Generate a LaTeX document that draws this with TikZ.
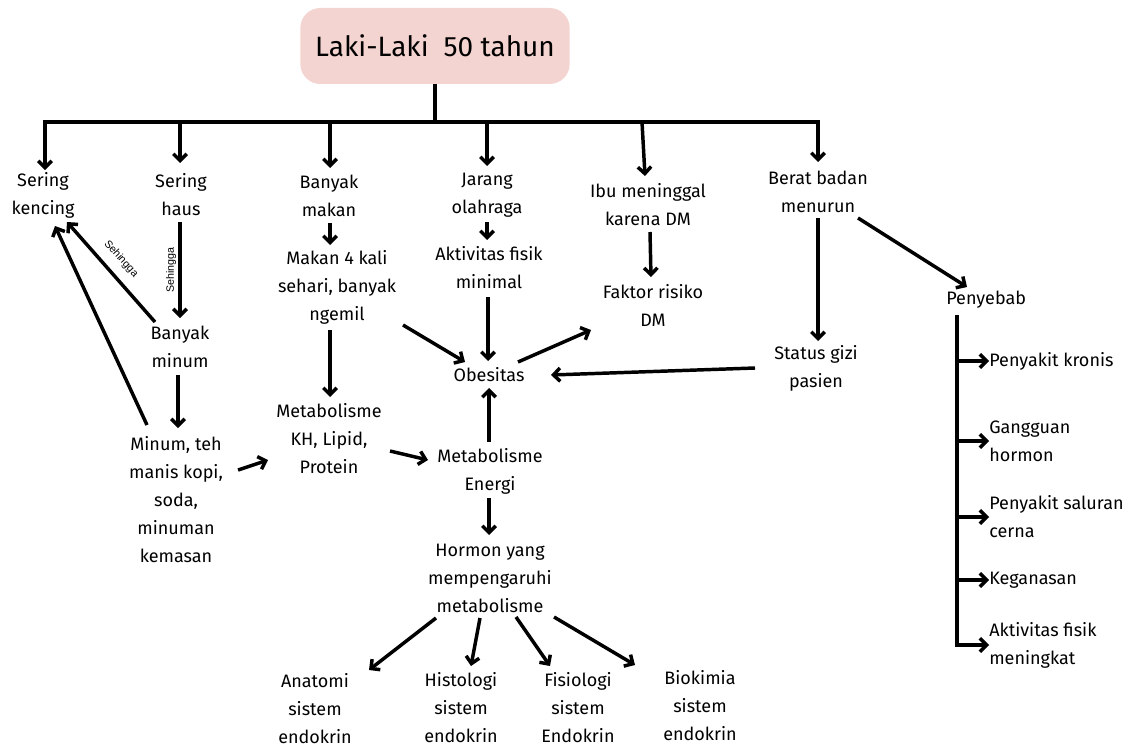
\documentclass[tikz,border=0pt]{standalone}
\usepackage{fontspec}
\setmainfont{Fira Sans}
\newfontfamily\lblfont{Liberation Sans}
\usetikzlibrary{arrows.meta,calc}
\definecolor{titlepink}{HTML}{F4D4D1}
\tikzset{
  txt/.style={font=\fontsize{13.5}{21}\selectfont, align=center, inner sep=0pt},
  ltxt/.style={font=\fontsize{13.5}{21}\selectfont, align=left, inner sep=0pt, anchor=west},
  lbl/.style={font=\lblfont\fontsize{8}{9}\selectfont, inner sep=0pt},
  ln/.style={line width=2.6pt},
  arr/.style={line width=2.6pt, -{Straight Barb[length=5pt,width=10pt]}},
  titlebox/.style={fill=titlepink, rounded corners=15pt, minimum width=202pt, minimum height=57pt,
    font=\fontsize{21}{25}\selectfont, inner sep=0pt}
}
\begin{document}
\begin{tikzpicture}[x=0.75pt,y=-0.75pt]
\useasboundingbox (0,0) rectangle (1134,749);
% title
\node[titlebox] (title) at (435,46) {Laki-Laki\ \ 50 tahun};
% nodes
\node[txt] (kencing) at (43,195) {Sering\\kencing};
\node[txt] (shaus) at (181,195) {Sering\\haus};
\node[txt] (bmakan) at (329,196) {Banyak\\makan};
\node[txt] (jarang) at (487,195) {Jarang\\olahraga};
\node[txt] (ibu) at (648,205) {Ibu meninggal\\karena DM};
\node[txt] (berat) at (818,192) {Berat badan\\menurun};
\node[txt] (makan4) at (337,287) {Makan 4 kali\\sehari, banyak\\ngemil};
\node[txt] (aktif) at (489,268) {Aktivitas fisik\\minimal};
\node[txt] (faktor) at (653,305) {Faktor risiko\\DM};
\node[txt] (bminum) at (180,347) {Banyak\\minum};
\node[txt] (obes) at (489,375) {Obesitas};
\node[txt] (status) at (816,368) {Status gizi\\pasien};
\node[ltxt] (peny) at (946,300) {Penyebab};
\node[txt] (minum) at (176,500) {Minum, teh\\manis kopi,\\soda,\\minuman\\kemasan};
\node[txt] (metkh) at (329,439) {Metabolisme\\KH, Lipid,\\Protein};
\node[txt] (meten) at (490,471) {Metabolisme\\Energi};
\node[txt] (hormon) at (490,578) {Hormon yang\\mempengaruhi\\metabolisme};
\node[txt] (anat) at (315,709) {Anatomi\\sistem\\endokrin};
\node[txt] (hist) at (461,708) {Histologi\\sistem\\endokrin};
\node[txt] (fis) at (578,708) {Fisiologi\\sistem\\Endokrin};
\node[txt] (bio) at (700,706) {Biokimia\\sistem\\endokrin};
% right list
\node[ltxt] (k1) at (989,361) {Penyakit kronis};
\node[ltxt] (k2) at (989,441) {Gangguan\\hormon};
\node[ltxt] (k3) at (989,517) {Penyakit saluran\\cerna};
\node[ltxt] (k4) at (989,580) {Keganasan};
\node[ltxt] (k5) at (989,645) {Aktivitas fisik\\meningkat};
% labels
\node[lbl, rotate=90] (s1) at (171,270) {Sehingga};
\node[lbl, rotate=-48] (s2) at (121,259) {Sehingga};
% bar
\coordinate (stem) at (435,122);
\coordinate (d1) at (45,122);
\coordinate (d2) at (180,122);
\coordinate (d3) at (330,122);
\coordinate (d4) at (487,122);
\coordinate (d5) at (642,122);
\coordinate (d6) at (818,122);
\draw[ln] (title.south) -- (stem);
\draw[ln] ($(d1)+(-1.7,0)$) -- ($(d6)+(1.7,0)$);
\draw[arr] (d1) -- ($(kencing)+(2,-25)$);
\draw[arr] (d2) -- ($(shaus)+(-1,-32)$);
\draw[arr] (d3) -- ($(bmakan)+(1,-28)$);
\draw[arr] (d4) -- ($(jarang)+(0,-29)$);
\draw[arr] (d5) -- ($(ibu)+(-3,-29)$);
\draw[arr] (d6) -- ($(berat)+(0,-30)$);
% connectors
\draw[arr] ($(shaus)+(-1,27)$) -- ($(bminum)+(0,-29)$);
\draw[arr] ($(bminum)+(-25,-25)$) -- ($(kencing)+(24,27)$);
\draw[arr] ($(minum)+(-29,-75)$) -- ($(kencing)+(12,31)$);
\draw[arr] ($(bminum)+(-2,28)$) -- ($(minum)+(2,-72)$);
\draw[arr] ($(minum)+(62,-30)$) -- ($(metkh)+(-61,21)$);
\draw[arr] ($(bmakan)+(1,27)$) -- ($(makan4)+(-7,-42)$);
\draw[arr] ($(makan4)+(-7,43)$) -- ($(metkh)+(1,-42)$);
\draw[arr] ($(makan4)+(66,38)$) -- ($(obes)+(-24,-13)$);
\draw[arr] ($(metkh)+(61,12)$) -- ($(meten)+(-62,-11)$);
\draw[arr] ($(jarang)+(0,27)$) -- ($(aktif)+(-2,-28)$);
\draw[arr] ($(aktif)+(-1,29)$) -- ($(obes)+(-1,-14)$);
\draw[arr] ($(obes)+(29,-13)$) -- ($(faktor)+(-62,25)$);
\draw[arr] ($(ibu)+(2,27)$) -- ($(faktor)+(-2,-28)$);
\draw[arr] ($(status)+(-61,0)$) -- ($(obes)+(62,0)$);
\draw[arr] ($(berat)+(0,26)$) -- ($(status)+(2,-27)$);
\draw[arr] ($(berat)+(40,26)$) -- ($(peny.west)+(21,-13)$);
\draw[arr] ($(meten)+(-1,-29)$) -- ($(obes)+(0,13)$);
\draw[arr] ($(meten)+(-1,27)$) -- ($(hormon)+(-1,-43)$);
\draw[arr] ($(hormon)+(-54,40)$) -- ($(anat)+(54,-39)$);
\draw[arr] ($(hormon)+(-10,40)$) -- ($(hist)+(10,-42)$);
\draw[arr] ($(hormon)+(26,39)$) -- ($(fis)+(-28,-42)$);
\draw[arr] ($(hormon)+(64,39)$) -- ($(bio)+(-65,-41)$);
% right list connectors
\coordinate (vt) at ($(peny.west)+(11,15)$);
\draw[ln] (vt) -- ($(vt |- k5.west)+(0,1.7)$);
\draw[arr] (vt |- k1.west) -- (k1.west);
\draw[arr] (vt |- k2.west) -- (k2.west);
\draw[arr] (vt |- k3.west) -- (k3.west);
\draw[arr] (vt |- k4.west) -- (k4.west);
\draw[arr] (vt |- k5.west) -- (k5.west);
\end{tikzpicture}
\end{document}
